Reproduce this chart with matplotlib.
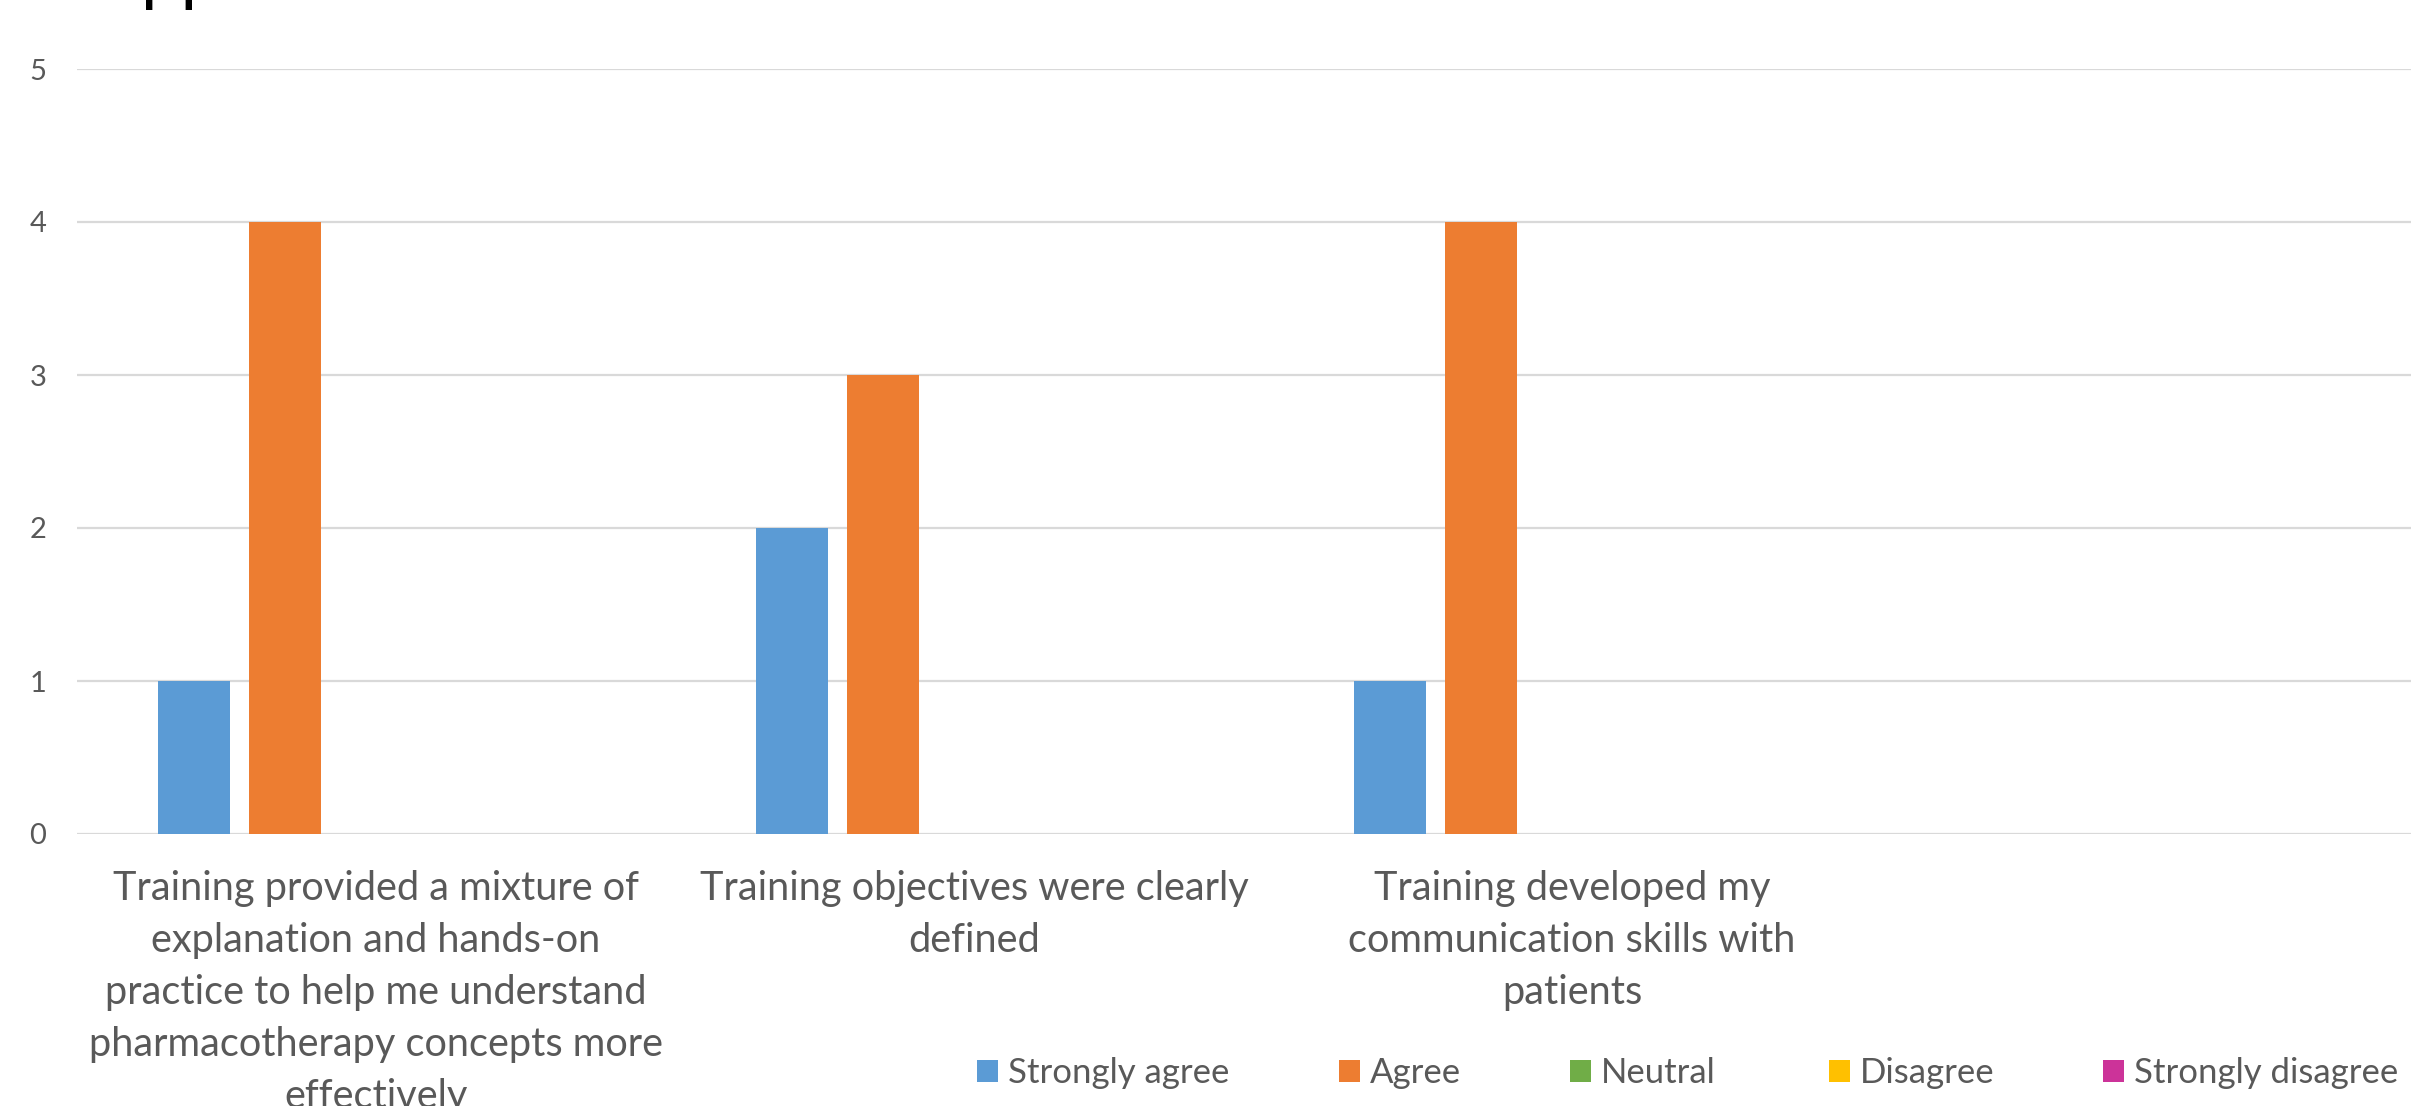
import matplotlib
matplotlib.use("Agg")
import matplotlib.pyplot as plt
from matplotlib.patches import Patch
import numpy as np

categories = [
    "Training provided a mixture of\nexplanation and hands-on\npractice to help me understand\npharmacotherapy concepts more\neffectively",
    "Training objectives were clearly\ndefined",
    "Training developed my\ncommunication skills with\npatients",
]
series_names = ["Strongly agree", "Agree", "Neutral", "Disagree", "Strongly disagree"]
strongly_agree = [1, 2, 1]
agree = [4, 3, 4]
neutral = [0, 0, 0]
disagree = [0, 0, 0]
strongly_disagree = [0, 0, 0]
yticks = [0, 1, 2, 3, 4, 5]
colors = ["#5B9BD5", "#ED7D31", "#70AD47", "#FFC000", "#CC3399"]
title_text = "Application"

plt.rcParams['font.family'] = ['Lato', 'DejaVu Sans']
TXT = "#595959"

W, H = 2411, 1106
fig = plt.figure(figsize=(W / 100, H / 100), dpi=100)
ax_left = 77 / W
ax_bottom = 1 - 834 / H
ax_height = (834 - 69) / H
ax_width = 4 * 598 / W
ax = fig.add_axes([ax_left, ax_bottom, ax_width, ax_height])

all_series = [strongly_agree, agree, neutral, disagree, strongly_disagree]
x = np.arange(len(categories))
step = 0.1524
bw = 0.1206
for k, (vals, c) in enumerate(zip(all_series, colors)):
    ax.bar(x + (k - 2) * step, vals, width=bw, color=c, zorder=3)

ax.set_xlim(-0.5, 3.5)
ax.set_ylim(0, 5)
ax.set_yticks(yticks)
ax.set_yticklabels([str(v) for v in yticks])
ax.set_xticks(x)
ax.set_xticklabels(categories, fontsize=28.6, color=TXT, linespacing=1.5)
ax.tick_params(axis='y', length=0, pad=22, labelsize=21, labelcolor=TXT)
ax.tick_params(axis='x', length=0, pad=26)
ax.grid(axis='y', color='#D9D9D9', linewidth=1.6, zorder=0)
for s in ax.spines.values():
    s.set_visible(False)

# legend entries, each placed at the reference's marker position
legend_x = [977, 1339, 1570, 1829, 2103]
for name, c, lx in zip(series_names, colors, legend_x):
    fig.legend([Patch(facecolor=c, edgecolor='none')], [name], loc='center left',
               bbox_to_anchor=(lx / W, 1 - 1073 / H), frameon=False,
               fontsize=25, handlelength=0.6, handleheight=0.6, handletextpad=0.3,
               borderpad=0, borderaxespad=0, labelcolor=TXT)

# title, mostly above the visible area (only descenders show)
tfs = 51
t = fig.text(0, 1 + 2 / H, title_text, fontsize=tfs, color='black',
             va='baseline', ha='left')
fig.canvas.draw()
r = fig.canvas.get_renderer()
probe = fig.text(0, 0, "A", fontsize=tfs)
wA = probe.get_window_extent(r).width
probe.remove()
em = tfs * 100 / 72
t.set_x((147 - wA - 0.08 * em) / W)

fig.savefig("out.png", dpi=100)
